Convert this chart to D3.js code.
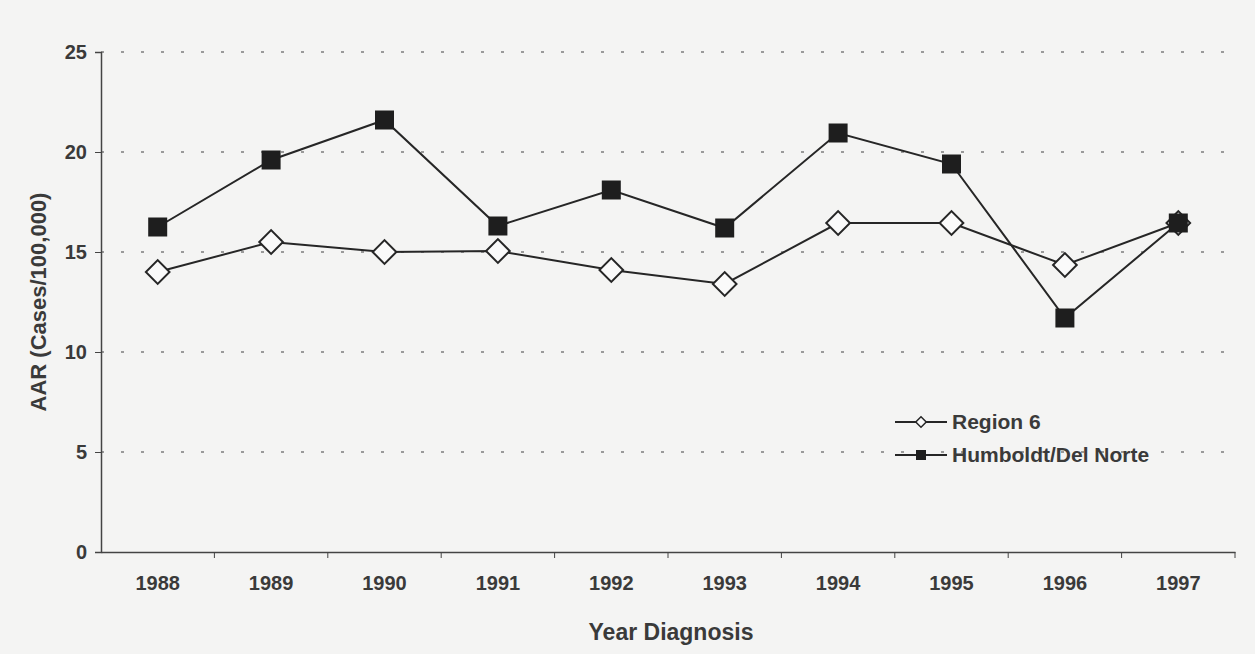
<html>
<head>
    <meta charset="UTF-8">
    <title>AAR by Year</title>
    <style>
        body { margin: 0; background: #f4f4f3; }
        svg { font-family: "Liberation Sans", Arial, sans-serif; }
    </style>
</head>
<body>
<script src="https://d3js.org/d3.v7.min.js"></script>
<div id="my_dataviz"></div>

<script>
    // data
    var years = ["1988", "1989", "1990", "1991", "1992", "1993", "1994", "1995", "1996", "1997"];
    var region6 = [14.0, 15.5, 15.0, 15.05, 14.1, 13.4, 16.45, 16.45, 14.35, 16.45];
    var humboldt = [16.25, 19.6, 21.6, 16.3, 18.1, 16.2, 20.95, 19.4, 11.7, 16.45];
    var yTicks = [0, 5, 10, 15, 20, 25];

    var outerWidth = 1255, outerHeight = 654,
        margin = {top: 52, right: 20, bottom: 102, left: 101},
        width = 1235 - margin.left,
        height = 552 - margin.top;

    var svg = d3.select("#my_dataviz")
        .append("svg")
        .attr("width", outerWidth)
        .attr("height", outerHeight)
        .append("g")
            .attr("transform", `translate(${margin.left}, ${margin.top})`);

    var x = d3.scaleBand()
        .domain(years)
        .range([0, width]);

    var y = d3.scaleLinear()
        .domain([0, 25])
        .range([height, 0]);

    // dotted gridlines
    svg.append("g")
        .selectAll("line")
        .data(yTicks.filter(d => d > 0))
        .enter()
        .append("line")
        .attr("x1", 0)
        .attr("x2", width - 8)
        .attr("y1", d => y(d))
        .attr("y2", d => y(d))
        .attr("stroke", "#9a9a9a")
        .attr("stroke-width", 2)
        .attr("stroke-dasharray", "3,17");

    // y axis
    var yAxis = svg.append("g")
        .call(d3.axisLeft(y).tickValues(yTicks).tickSize(6).tickPadding(8));
    yAxis.select(".domain").attr("stroke", "#444").attr("stroke-width", 1.5);
    yAxis.selectAll(".tick line").attr("stroke", "#444");
    yAxis.selectAll("text")
        .style("font-size", "20px")
        .style("font-weight", "bold")
        .attr("fill", "#3a3a3a");

    // x axis, ticks between categories
    var xAxis = svg.append("g")
        .attr("transform", `translate(0, ${height})`)
        .call(d3.axisBottom(x).tickSize(0).tickPadding(24));
    xAxis.select(".domain").attr("stroke", "#444").attr("stroke-width", 1.5);
    xAxis.selectAll("text")
        .style("font-size", "20px")
        .style("font-weight", "bold")
        .attr("fill", "#3a3a3a");
    xAxis.selectAll(".sep")
        .data(years)
        .enter()
        .append("line")
        .attr("x1", d => x(d) + x.bandwidth())
        .attr("x2", d => x(d) + x.bandwidth())
        .attr("y1", 0)
        .attr("y2", 6)
        .attr("stroke", "#444");

    // axis titles
    svg.append("text")
        .attr("x", 671 - margin.left)
        .attr("y", height + 88)
        .attr("text-anchor", "middle")
        .style("font-size", "23px")
        .style("font-weight", "bold")
        .attr("fill", "#3a3a3a")
        .text("Year Diagnosis");

    svg.append("text")
        .attr("transform", `translate(${46 - margin.left}, ${y(12.5)}) rotate(-90)`)
        .attr("text-anchor", "middle")
        .style("font-size", "22px")
        .style("font-weight", "bold")
        .attr("fill", "#3a3a3a")
        .text("AAR (Cases/100,000)");

    var cx = d => x(d) + x.bandwidth() / 2;
    var line = d3.line()
        .x(d => cx(d[0]))
        .y(d => y(d[1]));

    var regionData = years.map((d, i) => [d, region6[i]]);
    var humData = years.map((d, i) => [d, humboldt[i]]);

    svg.append("path")
        .datum(humData)
        .attr("d", line)
        .attr("fill", "none")
        .attr("stroke", "#262626")
        .attr("stroke-width", 2);

    svg.append("path")
        .datum(regionData)
        .attr("d", line)
        .attr("fill", "none")
        .attr("stroke", "#262626")
        .attr("stroke-width", 2);

    // diamond markers
    var diamond = d3.symbol().type(d3.symbolSquare).size(280);
    svg.selectAll(".diamond")
        .data(regionData)
        .enter()
        .append("path")
        .attr("d", diamond)
        .attr("transform", d => `translate(${cx(d[0])}, ${y(d[1])}) rotate(45)`)
        .attr("fill", "#fafafa")
        .attr("stroke", "#262626")
        .attr("stroke-width", 2);

    // square markers (drawn on top, as in the original at 1997)
    svg.selectAll(".square")
        .data(humData)
        .enter()
        .append("rect")
        .attr("x", d => cx(d[0]) - 9.5)
        .attr("y", d => y(d[1]) - 9.5)
        .attr("width", 19)
        .attr("height", 19)
        .attr("fill", "#1e1e1e");

    // legend
    var legend = svg.append("g")
        .attr("transform", `translate(${895 - margin.left}, ${422 - margin.top})`);
    var items = [{label: "Region 6", type: "diamond"}, {label: "Humboldt/Del Norte", type: "square"}];
    var li = legend.selectAll("g")
        .data(items)
        .enter()
        .append("g")
        .attr("transform", (d, i) => `translate(0, ${i * 33})`);
    li.append("line")
        .attr("x1", 0).attr("x2", 52)
        .attr("stroke", "#262626")
        .attr("stroke-width", 2);
    li.filter(d => d.type == "diamond")
        .append("path")
        .attr("d", d3.symbol().type(d3.symbolSquare).size(55))
        .attr("transform", "translate(26, 0) rotate(45)")
        .attr("fill", "#fafafa")
        .attr("stroke", "#262626")
        .attr("stroke-width", 1.5);
    li.filter(d => d.type == "square")
        .append("rect")
        .attr("x", 21).attr("y", -5)
        .attr("width", 10).attr("height", 10)
        .attr("fill", "#1e1e1e");
    li.append("text")
        .attr("x", 57)
        .attr("dy", "0.35em")
        .style("font-size", "21px")
        .style("font-weight", "bold")
        .attr("fill", "#3a3a3a")
        .text(d => d.label);
</script>
</body>
</html>
